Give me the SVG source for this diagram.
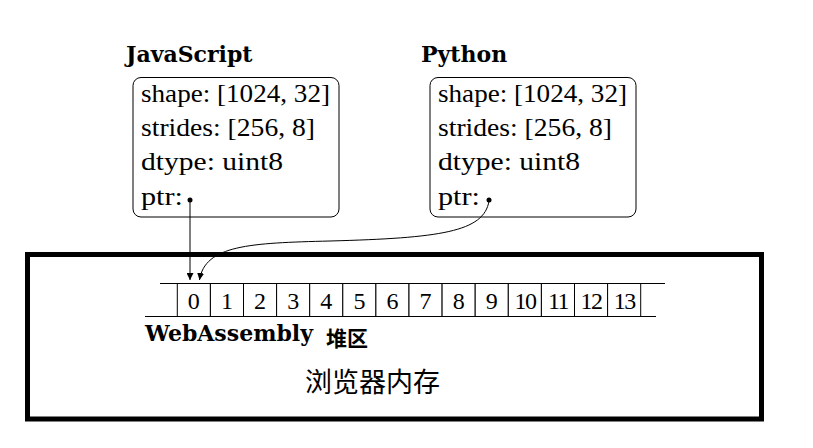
<svg xmlns="http://www.w3.org/2000/svg" width="813" height="448" viewBox="0 0 813 448">
<defs>
<marker id="ah" viewBox="0 0 10 10" refX="10" refY="5" markerWidth="7" markerHeight="7" markerUnits="userSpaceOnUse" orient="auto">
<path d="M0,0 L10,5 L0,10 z" fill="#000"/>
</marker>
<style>
.title{font-family:"DejaVu Serif",serif;font-weight:bold;font-size:22px;fill:#000}
.body{font-family:"Liberation Serif",serif;font-size:26px;fill:#000}
.box{fill:#fff;stroke:#000;stroke-width:1}
.cell{fill:#fff;stroke:#000;stroke-width:1}
.dig{font-family:"Liberation Serif",serif;font-size:24px;text-anchor:middle;fill:#000}
.thin{stroke:#000;stroke-width:1;fill:none}
.cjk{font-family:"Noto Sans CJK SC",sans-serif;fill:#000}
</style>
</defs>
<rect width="813" height="448" fill="#fff"/>

<g id="browser-memory">
<rect x="27.5" y="254.5" width="734" height="164.5" fill="none" stroke="#000" stroke-width="5"/>
<text class="cjk" x="305" y="392" font-size="27">浏览器内存</text>
</g>

<g id="js-node">
<text class="title" x="126" y="62">JavaScript</text>
<rect class="box" x="133" y="77.5" width="206" height="139.5" rx="8"/>
<text class="body" x="141" y="102" textLength="189" lengthAdjust="spacingAndGlyphs">shape: [1024, 32]</text>
<text class="body" x="141" y="136" textLength="174" lengthAdjust="spacingAndGlyphs">strides: [256, 8]</text>
<text class="body" x="141" y="170" textLength="142" lengthAdjust="spacingAndGlyphs">dtype: uint8</text>
<text class="body" x="141" y="205" textLength="42" lengthAdjust="spacingAndGlyphs">ptr:</text>
<circle cx="190" cy="200" r="2.5" fill="#000"/>
</g>

<g id="py-node">
<text class="title" x="421" y="62">Python</text>
<rect class="box" x="430" y="77.5" width="206" height="139.5" rx="8"/>
<text class="body" x="438" y="102" textLength="189" lengthAdjust="spacingAndGlyphs">shape: [1024, 32]</text>
<text class="body" x="438" y="136" textLength="174" lengthAdjust="spacingAndGlyphs">strides: [256, 8]</text>
<text class="body" x="438" y="170" textLength="142" lengthAdjust="spacingAndGlyphs">dtype: uint8</text>
<text class="body" x="438" y="205" textLength="42" lengthAdjust="spacingAndGlyphs">ptr:</text>
<circle cx="489" cy="200" r="2.5" fill="#000"/>
</g>

<g id="wasm-heap">
<line class="thin" x1="160" y1="283.5" x2="665" y2="283.5"/>
<line class="thin" x1="145" y1="316.5" x2="656" y2="316.5"/>
<g>
<rect class="cell" x="177.3" y="283.5" width="33.1" height="33"/>
<rect class="cell" x="210.4" y="283.5" width="33.1" height="33"/>
<rect class="cell" x="243.5" y="283.5" width="33.1" height="33"/>
<rect class="cell" x="276.6" y="283.5" width="33.1" height="33"/>
<rect class="cell" x="309.7" y="283.5" width="33.1" height="33"/>
<rect class="cell" x="342.8" y="283.5" width="33.1" height="33"/>
<rect class="cell" x="375.9" y="283.5" width="33.1" height="33"/>
<rect class="cell" x="409.0" y="283.5" width="33.1" height="33"/>
<rect class="cell" x="442.1" y="283.5" width="33.1" height="33"/>
<rect class="cell" x="475.2" y="283.5" width="33.1" height="33"/>
<rect class="cell" x="508.3" y="283.5" width="33.1" height="33"/>
<rect class="cell" x="541.4" y="283.5" width="33.1" height="33"/>
<rect class="cell" x="574.5" y="283.5" width="33.1" height="33"/>
<rect class="cell" x="607.6" y="283.5" width="33.1" height="33"/>
</g>
<g>
<text class="dig" x="193.8" y="309">0</text>
<text class="dig" x="227.0" y="309">1</text>
<text class="dig" x="260.1" y="309">2</text>
<text class="dig" x="293.2" y="309">3</text>
<text class="dig" x="326.3" y="309">4</text>
<text class="dig" x="359.4" y="309">5</text>
<text class="dig" x="392.5" y="309">6</text>
<text class="dig" x="425.6" y="309">7</text>
<text class="dig" x="458.7" y="309">8</text>
<text class="dig" x="491.8" y="309">9</text>
<text class="dig" x="524.9" y="309" letter-spacing="-1.5">10</text>
<text class="dig" x="558.0" y="309" letter-spacing="-1.5">11</text>
<text class="dig" x="591.1" y="309" letter-spacing="-1.5">12</text>
<text class="dig" x="624.2" y="309" letter-spacing="-1.5">13</text>
</g>
<text class="title" x="145" y="341">WebAssembly</text>
<text class="cjk" x="326" y="346" font-size="21" font-weight="bold">堆区</text>
</g>

<g id="connectors">
<path class="thin" d="M190,200 L190,280" marker-end="url(#ah)"/>
<path class="thin" d="M489,201 C484,232 440,238 330,241 C250,243 205,245 199.5,280" marker-end="url(#ah)"/>
</g>
</svg>
